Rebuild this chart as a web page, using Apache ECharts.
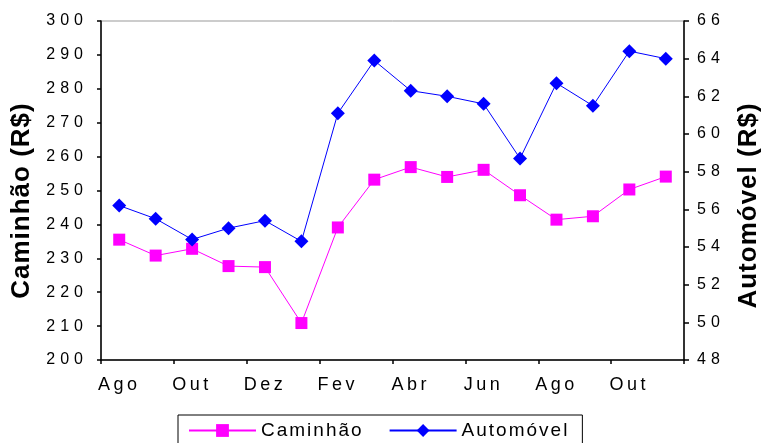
<!DOCTYPE html>
<html>
<head>
<meta charset="utf-8">
<script src="https://cdn.jsdelivr.net/npm/echarts@6/dist/echarts.min.js"></script>
<style>
  html, body { margin: 0; padding: 0; background: #fff; }
  #chart { width: 767px; height: 443px; }
</style>
</head>
<body>
<div id="chart"></div>
<script>
// Monthly categories (two-year span, Aug to Nov)
const months = ['Ago', 'Set', 'Out', 'Nov', 'Dez', 'Jan', 'Fev', 'Mar', 'Abr', 'Mai', 'Jun', 'Jul', 'Ago', 'Set', 'Out', 'Nov'];

// Prices in R$
const caminhao = [235.5, 230.8, 232.8, 227.7, 227.4, 210.9, 239.1, 253.2, 256.9, 254.0, 256.1, 248.6, 241.4, 242.4, 250.3, 254.1];
const automovel = [56.2, 55.5, 54.4, 55.0, 55.4, 54.3, 61.1, 63.9, 62.3, 62.0, 61.6, 58.7, 62.7, 61.5, 64.4, 64.0];

// Axis ranges
const leftAxis = { min: 200, max: 300, step: 10 };
const rightAxis = { min: 48, max: 66, step: 2 };

// Letter tracking for canvas text, chosen by font size (used for drawing and measuring alike)
(function () {
  const proto = CanvasRenderingContext2D.prototype;
  if (!('letterSpacing' in proto)) return;
  const trackBySize = { 16: 5, 18: 3.5, 19: 2, 26: 1 };
  function track(ctx) {
    const m = /(\d+(?:\.\d+)?)px/.exec(ctx.font);
    const t = m ? trackBySize[Math.round(parseFloat(m[1]))] : 0;
    ctx.letterSpacing = (t || 0) + 'px';
  }
  const fill = proto.fillText, stroke = proto.strokeText, measure = proto.measureText;
  proto.fillText = function () { track(this); return fill.apply(this, arguments); };
  proto.strokeText = function () { track(this); return stroke.apply(this, arguments); };
  proto.measureText = function () { track(this); return measure.apply(this, arguments); };
})();

const FONT = '"Liberation Sans", Arial, sans-serif';

const chart = echarts.init(document.getElementById('chart'), null, { renderer: 'canvas' });

chart.setOption({
  animation: false,
  backgroundColor: '#ffffff',
  grid: {
    left: 101, right: 83, top: 21, bottom: 83,
    outerBoundsMode: 'none',
    show: true, borderColor: '#999999', borderWidth: 1, backgroundColor: 'transparent'
  },
  legend: {
    left: 178, top: 415,
    padding: [5, 13, 24, 10],
    borderColor: '#000', borderWidth: 1,
    itemWidth: 67, itemHeight: 16, itemGap: 25,
    textStyle: { fontFamily: FONT, fontSize: 19, color: '#000' },
    data: ['Caminhão', 'Automóvel']
  },
  xAxis: {
    type: 'category',
    data: months,
    boundaryGap: true,
    axisLine: { lineStyle: { color: '#000', width: 1.5 } },
    axisTick: { show: true, interval: 1, length: 4, lineStyle: { color: '#000', width: 1.5 } },
    axisLabel: { interval: 1, margin: 14, fontFamily: FONT, fontSize: 18, color: '#000' },
    splitLine: { show: false }
  },
  yAxis: [
    {
      type: 'value', position: 'left',
      min: leftAxis.min, max: leftAxis.max, interval: leftAxis.step,
      name: 'Caminhão (R$)', nameLocation: 'middle', nameGap: 58, nameRotate: 90,
      nameTextStyle: { fontFamily: FONT, fontSize: 26, fontWeight: 'bold', color: '#000', padding: [0, 20, 0, 0] },
      axisLine: { show: true, lineStyle: { color: '#000', width: 1.5 } },
      axisTick: { show: true, length: 4, lineStyle: { color: '#000', width: 1.5 } },
      axisLabel: { margin: 13, fontFamily: FONT, fontSize: 16, color: '#000' },
      splitLine: { show: false }
    },
    {
      type: 'value', position: 'right',
      min: rightAxis.min, max: rightAxis.max, interval: rightAxis.step,
      name: 'Automóvel (R$)', nameLocation: 'middle', nameGap: 49, nameRotate: 90,
      nameTextStyle: { fontFamily: FONT, fontSize: 26, fontWeight: 'bold', color: '#000', padding: [0, 30, 0, 0] },
      axisLine: { show: true, lineStyle: { color: '#000', width: 1.5 } },
      axisTick: { show: true, length: 5, lineStyle: { color: '#000', width: 1.5 } },
      axisLabel: { margin: 13, fontFamily: FONT, fontSize: 16, color: '#000' },
      splitLine: { show: false }
    }
  ],
  series: [
    {
      name: 'Caminhão', type: 'line', yAxisIndex: 0,
      data: caminhao,
      symbol: 'rect', symbolSize: 12,
      lineStyle: { color: '#ff00ff', width: 1 },
      itemStyle: { color: '#ff00ff' },
      z: 2
    },
    {
      name: 'Automóvel', type: 'line', yAxisIndex: 1,
      data: automovel,
      symbol: 'diamond', symbolSize: 14,
      lineStyle: { color: '#0000ff', width: 1 },
      itemStyle: { color: '#0000ff' },
      z: 3
    }
  ]
});
</script>
</body>
</html>
